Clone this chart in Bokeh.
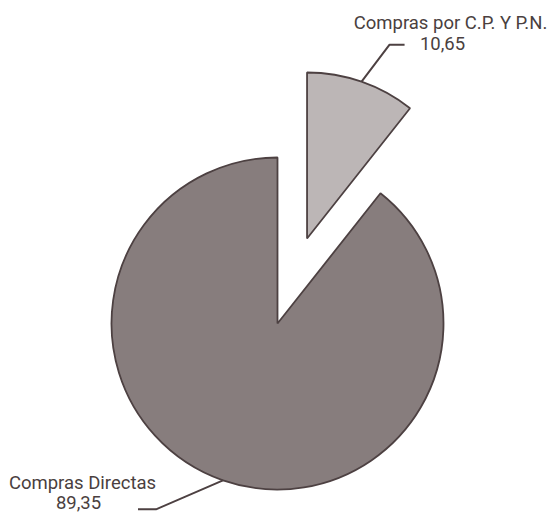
import math
from bokeh.plotting import figure
from bokeh.models import Range1d
from bokeh.core.properties import value
from bokeh.embed import file_html
from bokeh.resources import INLINE

# Purchase breakdown (percent)
categories = ["Compras por C.P. Y P.N.", "Compras Directas"]
shares = [10.65, 89.35]
value_labels = ["10,65", "89,35"]
fill_colors = ["#bcb6b6", "#877d7d"]

W, H = 551, 513
p = figure(width=W, height=H, output_backend="svg", toolbar_location=None,
           x_range=Range1d(0, W), y_range=Range1d(0, H),
           min_border=0, outline_line_color=None)
p.axis.visible = False
p.grid.visible = False
p.background_fill_color = "white"
p.border_fill_color = "white"

cx, cy = 277, H - 323
radius = 166
explode = [90, 0]
edge = "#4d4142"
text_color = "#4a3f40"

# slices run clockwise from 12 o'clock
total = sum(shares)
start = math.pi / 2
mids = []
centers = []
for share, color, off in zip(shares, fill_colors, explode):
    sweep = 2 * math.pi * share / total
    end = start - sweep
    mid = start - sweep / 2
    ox = cx + off * math.cos(mid)
    oy = cy + off * math.sin(mid)
    p.wedge(x=[ox], y=[oy], radius=radius, start_angle=end, end_angle=start,
            direction="anticlock", fill_color=color, line_color=edge,
            line_width=1.8)
    mids.append(mid)
    centers.append((ox, oy))
    start = end

# leader lines from each slice's arc midpoint
elbows = [(28, 37, 15), (-67, -29, -18)]
for (ox, oy), mid, (ex, ey, hx) in zip(centers, mids, elbows):
    x0 = ox + radius * math.cos(mid)
    y0 = oy + radius * math.sin(mid)
    x1, y1 = x0 + ex, y0 + ey
    x2 = x1 + hx
    p.line([x0, x1, x2], [y0, y1, y1], line_color=edge, line_width=2)

# labels (two lines each, centred)
label_pos = [((450, H - 22), (442, H - 43)), ((82, H - 482), (78, H - 502))]
for cat, vl, ((tx, ty), (vx, vy)) in zip(categories, value_labels, label_pos):
    for txt, x, y in ((cat, tx, ty), (vl, vx, vy)):
        p.text(x=[x], y=[y], text=[txt], text_align="center",
               text_baseline="middle", text_font=value("Roboto"),
               text_font_size="18.5px", text_color=text_color)

open("out.html", "w").write(file_html(p, INLINE))
